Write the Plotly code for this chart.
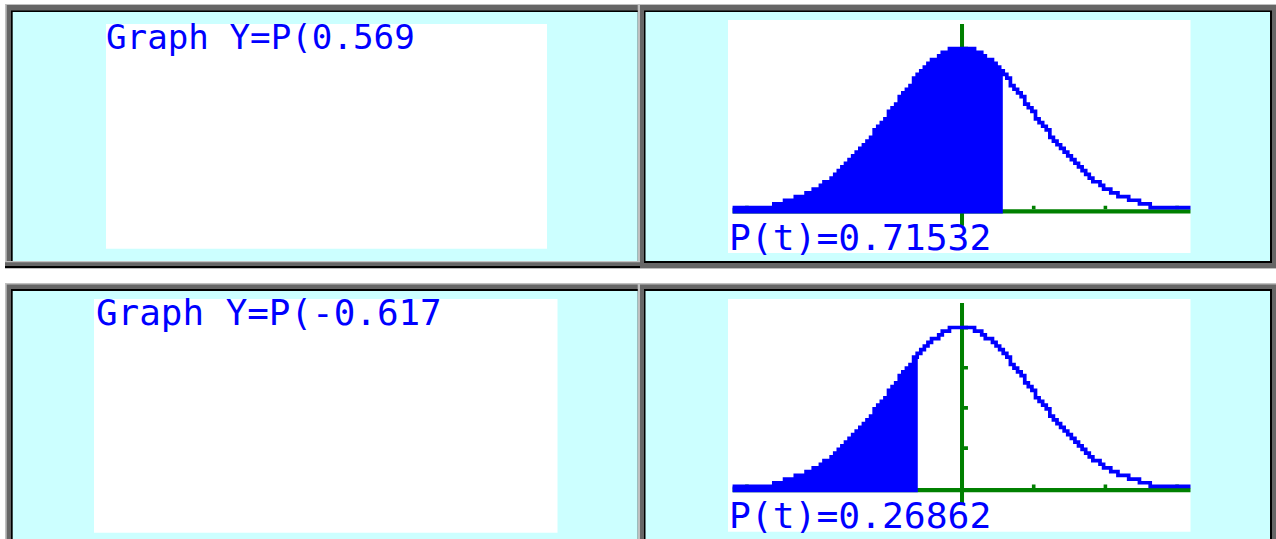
import numpy as np
import plotly.graph_objects as go

W, H = 1276, 539

# ---------------- data ----------------
INPUT_T = [0.569, -0.617]                 # value typed on the left screens
INPUT_LABELS = ["Graph Y=P(0.569", "Graph Y=P(-0.617"]
RESULT_LABELS = ["P(t)=0.71532", "P(t)=0.26862"]

# calculator pixel columns (x) and the density (pixel-quantised)
T_GRID = np.round(np.linspace(-3.2, 3.2, 129), 2)
DENSITY = [
    0.0092, 0.0092, 0.0092, 0.0092, 0.0092, 0.0092, 0.0092, 0.0092, 0.0092, 0.0092,
    0.0092, 0.0092, 0.0184, 0.0184, 0.0184, 0.0276, 0.0276, 0.0276, 0.0368, 0.0368,
    0.0368, 0.0460, 0.0460, 0.0552, 0.0552, 0.0644, 0.0736, 0.0736, 0.0828, 0.0920,
    0.1012, 0.1104, 0.1196, 0.1288, 0.1380, 0.1472, 0.1564, 0.1656, 0.1748, 0.1840,
    0.2024, 0.2116, 0.2208, 0.2300, 0.2484, 0.2576, 0.2668, 0.2852, 0.2944, 0.3036,
    0.3128, 0.3312, 0.3404, 0.3496, 0.3588, 0.3680, 0.3772, 0.3772, 0.3864, 0.3956,
    0.3956, 0.4048, 0.4048, 0.4048, 0.4048,
    0.4048, 0.4048, 0.4048, 0.3956, 0.3956, 0.3864, 0.3772, 0.3772, 0.3680, 0.3588,
    0.3496, 0.3404, 0.3312, 0.3128, 0.3036, 0.2944, 0.2852, 0.2668, 0.2576, 0.2484,
    0.2300, 0.2208, 0.2116, 0.2024, 0.1840, 0.1748, 0.1656, 0.1564, 0.1472, 0.1380,
    0.1288, 0.1196, 0.1104, 0.1012, 0.0920, 0.0828, 0.0736, 0.0736, 0.0644, 0.0552,
    0.0552, 0.0460, 0.0460, 0.0368, 0.0368, 0.0368, 0.0276, 0.0276, 0.0276, 0.0184,
    0.0184, 0.0184, 0.0092, 0.0092, 0.0092, 0.0092, 0.0092, 0.0092, 0.0092, 0.0092,
    0.0092, 0.0092, 0.0092, 0.0092,
]
X_TICKS = [-3, -2, -1, 1, 2, 3]
Y_TICKS = [0.1, 0.2, 0.3, 0.4]

# ---------------- style ----------------
BLUE = "#0000ff"
GREEN = "#008000"
CY = "#ccffff"
LG, DG, BK = "#c0c0c0", "#666666", "#000000"
FONT = "DejaVu Sans Mono"
X_RANGE = [-3.264, 3.187]
Y_RANGE = [-0.1035, 0.4758]
AX_HALF = 0.0055      # half thickness of x axis line (data units)
ROW = 0.0092          # one calculator pixel row in data units


def px(x):
    return x / W


def py(y):
    return 1 - y / H


shapes = []


def prect(x0, y0, x1, y1, color):
    shapes.append(dict(type="rect", xref="paper", yref="paper",
                       x0=px(x0), x1=px(x1), y0=py(y1), y1=py(y0),
                       fillcolor=color, line=dict(width=0), layer="below"))


# frames (window bevels)
for r in [(5, 4, 640, 268.3, BK), (5, 4, 640, 266, DG), (5, 4, 640, 262.3, LG),
          (6.7, 5, 637.7, 261, DG), (11, 10.5, 637.7, 261, BK), (12.7, 12, 637.7, 261, CY),
          (640, 4, 1276, 269, LG), (640, 5, 1276, 268, DG), (644, 10.5, 1272, 263, BK),
          (645.5, 12, 1270, 261, CY),
          (5, 283, 640, 539, LG), (6.7, 284.5, 637.7, 539, DG), (11, 289, 637.7, 539, BK),
          (12.7, 291, 637.7, 539, CY),
          (640, 283, 1276, 539, LG), (640, 284.5, 1276, 539, DG), (644, 289, 1272, 539, BK),
          (645.5, 291, 1270, 539, CY)]:
    prect(*r)

# calculator screens
for r in [(106, 24, 547, 248.7), (94, 299, 557.5, 532.7),
          (728, 20, 1190.5, 253), (728, 299, 1190.5, 531.7)]:
    prect(*r, "#ffffff")

fig = go.Figure()

subplots = [("x", "y"), ("x2", "y2")]
for (xr, yr), t_in in zip(subplots, INPUT_T):
    # axes drawn as screen pixels
    shapes.append(dict(type="rect", xref=xr, yref=yr, x0=-3.2, x1=3.3,
                       y0=-AX_HALF, y1=AX_HALF, fillcolor=GREEN, line=dict(width=0), layer="below"))
    shapes.append(dict(type="rect", xref=xr, yref=yr, x0=-0.028, x1=0.028,
                       y0=-0.036, y1=0.466, fillcolor=GREEN, line=dict(width=0), layer="below"))
    for t in X_TICKS:
        shapes.append(dict(type="rect", xref=xr, yref=yr, x0=t - 0.025, x1=t + 0.025,
                           y0=AX_HALF, y1=0.0137, fillcolor=GREEN, line=dict(width=0), layer="below"))
    for v in Y_TICKS:
        shapes.append(dict(type="rect", xref=xr, yref=yr, x0=0.028, x1=0.083,
                           y0=v, y1=v + ROW, fillcolor=GREEN, line=dict(width=0), layer="below"))

    mask = T_GRID <= t_in
    fx = list(T_GRID[mask]) + [t_in]
    dens = [d for d, m in zip(DENSITY, mask) if m]
    fy = dens + [dens[-1]]
    fig.add_trace(go.Scatter(x=[-3.2, t_in], y=[-AX_HALF, -AX_HALF], mode="lines",
                             line=dict(width=0, color=BLUE), xaxis=xr, yaxis=yr,
                             showlegend=False, hoverinfo="skip"))
    fig.add_trace(go.Scatter(x=fx, y=fy, mode="lines", fill="tonexty", fillcolor=BLUE,
                             line=dict(width=0, color=BLUE, shape="hvh"), xaxis=xr, yaxis=yr,
                             showlegend=False, hoverinfo="skip"))
    fig.add_trace(go.Scatter(x=T_GRID, y=DENSITY, mode="lines",
                             line=dict(width=3.7, color=BLUE, shape="hvh"), xaxis=xr, yaxis=yr,
                             showlegend=False, hoverinfo="skip"))

annotations = []


def text(x, ymid, s, size):
    annotations.append(dict(x=px(x), y=py(ymid), xref="paper", yref="paper", text=s,
                            showarrow=False, xanchor="left", yanchor="middle",
                            font=dict(family=FONT, size=size, color=BLUE),
                            borderpad=0, borderwidth=0))


text(106, 36.5, INPUT_LABELS[0], 34.2)
text(95.5, 312, INPUT_LABELS[1], 35.9)
text(728.5, 237, RESULT_LABELS[0], 36.3)
text(728.5, 515.2, RESULT_LABELS[1], 36.3)

ax_common = dict(visible=False, showgrid=False, zeroline=False, fixedrange=True)
fig.update_layout(
    width=W, height=H, margin=dict(l=0, r=0, t=0, b=0),
    paper_bgcolor="#ffffff", plot_bgcolor="rgba(0,0,0,0)",
    shapes=shapes, annotations=annotations, showlegend=False,
    xaxis=dict(domain=[px(728), px(1190.5)], range=X_RANGE, anchor="y", **ax_common),
    yaxis=dict(domain=[py(253), py(20)], range=Y_RANGE, anchor="x", **ax_common),
    xaxis2=dict(domain=[px(728), px(1190.5)], range=X_RANGE, anchor="y2", **ax_common),
    yaxis2=dict(domain=[py(531.7), py(299)], range=Y_RANGE, anchor="x2", **ax_common),
)

fig.write_html("out.html", config={"displayModeBar": False},
               post_script="document.body.style.margin='0px';document.body.style.overflow='hidden';")
